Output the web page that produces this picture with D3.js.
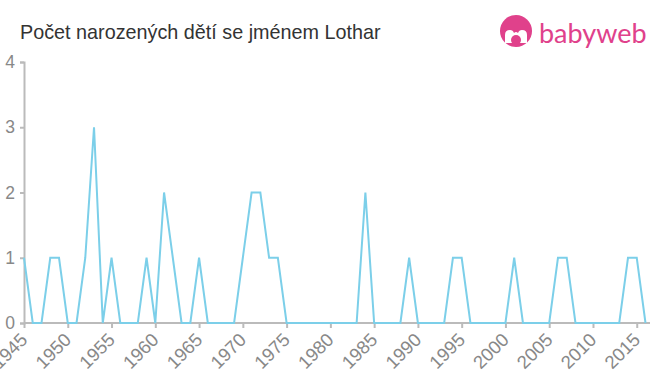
<!DOCTYPE html>
<html>
<head>
<meta charset="utf-8">
<script src="https://cdn.jsdelivr.net/npm/d3@7"></script>
<style>
  body { margin: 0; background: #fff; }
  svg { font-family: "Liberation Sans", Arial, sans-serif; }
</style>
</head>
<body>
<div id="chart"></div>
<script>
// data
const years = d3.range(1945, 2017);
const counts = [
  1, 0, 0, 1, 1, 0, 0, 1, 3, 0, // 1945-1954
  1, 0, 0, 0, 1, 0, 2, 1, 0, 0, // 1955-1964
  1, 0, 0, 0, 0, 1, 2, 2, 1, 1, // 1965-1974
  0, 0, 0, 0, 0, 0, 0, 0, 0, 2, // 1975-1984
  0, 0, 0, 0, 1, 0, 0, 0, 0, 1, // 1985-1994
  1, 0, 0, 0, 0, 0, 1, 0, 0, 0, // 1995-2004
  0, 1, 1, 0, 0, 0, 0, 0, 0, 1, // 2005-2014
  1, 0                          // 2015-2016
];
const xTicks = d3.range(1945, 2016, 5);
const yTicks = [0, 1, 2, 3, 4];
const title = "Počet narozených dětí se jménem Lothar";

const width = 660, height = 375;
const margin = { top: 62, bottom: 52, left: 24, right: 15 };

const svg = d3.select("#chart").append("svg")
  .attr("width", width)
  .attr("height", height);

const xScale = d3.scaleLinear()
  .domain([1945, 2016])
  .range([margin.left, 645.5]);

const yScale = d3.scaleLinear()
  .domain([0, 4])
  .range([height - margin.bottom, margin.top]);

// title
svg.append("text")
  .attr("x", 20)
  .attr("y", 39)
  .attr("fill", "#333")
  .attr("font-size", 19.8)
  .text(title);

// logo
const pink = "#e0418b";
const logo = svg.append("g").attr("transform", "translate(516,31)");
logo.append("circle").attr("r", 16).attr("fill", pink);
logo.append("path")
  .attr("d", "M-11,12 L-11,4 Q-11,-1 -6,-1 Q-3,-1 -2,2 Q0,0 2,2 Q3,-1 6,-1 Q11,-1 11,4 L11,12 Z")
  .attr("fill", "#fff");
logo.append("circle").attr("cx", 0).attr("cy", 9).attr("r", 5).attr("fill", pink);
svg.append("text")
  .attr("x", 539)
  .attr("y", 43)
  .attr("fill", pink)
  .attr("font-size", 27)
  .attr("font-family", "Lato, 'Open Sans', sans-serif")
  .text("babyweb");

// y axis
const yAxis = svg.append("g")
  .attr("transform", `translate(${margin.left},0)`)
  .call(d3.axisLeft(yScale).tickValues(yTicks).tickSize(4).tickFormat(d3.format("d")));
yAxis.select(".domain").attr("stroke", "#bbb").attr("stroke-width", 2);
yAxis.selectAll(".tick line").attr("stroke", "#bbb").attr("stroke-width", 2);
yAxis.selectAll(".tick text")
  .attr("fill", "#888")
  .attr("font-size", 17.5)
  .attr("x", -9);

// x axis
const xAxis = svg.append("g")
  .attr("transform", `translate(0,${yScale(0)})`)
  .call(d3.axisBottom(xScale).tickValues(xTicks).tickSize(5).tickSizeOuter(0).tickFormat(d3.format("d")));
xAxis.select(".domain").remove();
xAxis.append("line")
  .attr("x1", margin.left).attr("x2", 650)
  .attr("stroke", "#bbb").attr("stroke-width", 2);
xAxis.selectAll(".tick line").attr("stroke", "#bbb").attr("stroke-width", 2);
xAxis.selectAll(".tick text")
  .attr("fill", "#888")
  .attr("font-size", 18.5)
  .attr("text-anchor", "end")
  .attr("dy", 0)
  .attr("y", 0)
  .attr("transform", "translate(4,18) rotate(-45)");

// line
const line = d3.line()
  .x((d, i) => xScale(years[i]))
  .y(d => yScale(d));

svg.append("path")
  .datum(counts)
  .attr("fill", "none")
  .attr("stroke", "#7ccfe9")
  .attr("stroke-width", 2)
  .attr("d", line);
</script>
</body>
</html>
